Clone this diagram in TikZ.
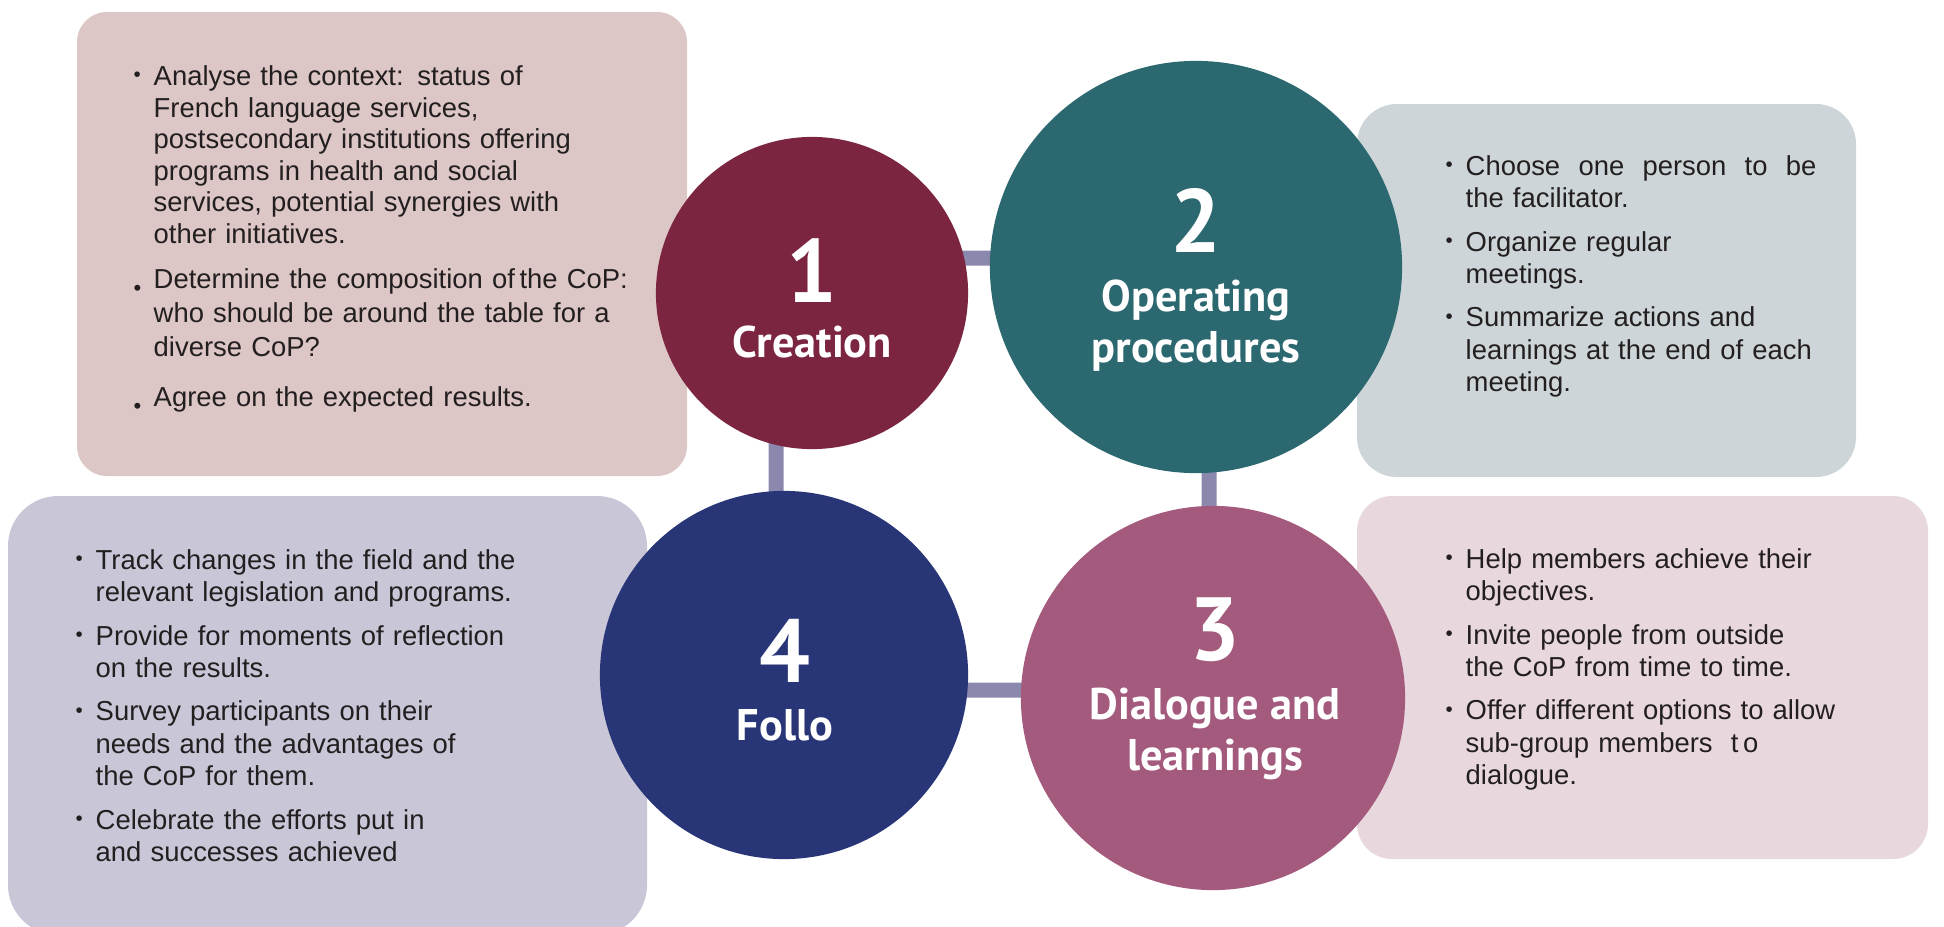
\documentclass[tikz,border=0pt]{standalone}
\usepackage{fontspec}
\usepackage{graphicx}
\usepackage{enumitem}
\setmainfont{Liberation Sans}
\newfontfamily\headfont{PT Sans}

\definecolor{wine}{HTML}{7B2540}
\definecolor{teal}{HTML}{2C6870}
\definecolor{mauve}{HTML}{A35A7C}
\definecolor{navy}{HTML}{283677}
\definecolor{link}{HTML}{8A89AD}
\definecolor{sand}{HTML}{DCC6C6}
\definecolor{mist}{HTML}{CDD5D8}
\definecolor{lilac}{HTML}{C9C6D8}
\definecolor{blush}{HTML}{E8D8DD}
\definecolor{ink}{HTML}{231F20}

\newcommand{\smalldot}{\raisebox{0.25ex}{\scalebox{0.75}{\textbullet}}}
\newcommand{\lowdot}{\raisebox{-0.5ex}{\scalebox{0.8}{\textbullet}}}
\setlist[itemize]{label=\smalldot, leftmargin=0.2cm, labelwidth=0.2cm,
  labelsep=0pt, align=left, topsep=0pt, partopsep=0pt, parsep=0pt,
  itemsep=3.2pt}

\begin{document}
\begin{tikzpicture}[x=0.01cm, y=-0.01cm,
  stage/.style={circle, inner sep=0pt, minimum size=#1},
  num/.style={anchor=base, text=white, font=\headfont\bfseries\fontsize{25.5}{25.5}\selectfont},
  title/.style={anchor=base, text=white, align=center, font=\headfont\bfseries\fontsize{12.6}{14.5}\selectfont},
  notes/.style={anchor=north west, inner sep=0pt, text width=5.4cm, text=ink, font=\fontsize{7.8}{9.2}\selectfont},
  ring/.style={draw=link, line width=0.15cm, rounded corners=0.8cm}]
  \useasboundingbox (0,0) rectangle (1944,927);

  % panels
  \fill[sand, rounded corners=0.3cm] (77,12) rectangle (687,476);
  \fill[mist, rounded corners=0.4cm] (1357,104) rectangle (1856,477);
  \fill[lilac, rounded corners=0.5cm] (8,496) rectangle (647,935);
  \fill[blush, rounded corners=0.35cm] (1357,496) rectangle (1928,859);

  \node[notes, font=\fontsize{7.8}{9.0}\selectfont] (n1) at (133,53) {\begin{itemize}[itemsep=3.8pt]
    \item Analyse the context: status of\\ French language services,\\ postsecondary institutions offering\\ programs in health and social\\ services, potential synergies with\\ other initiatives.
    \item[\lowdot] Determine the composition of\,the CoP:\\[0.6pt] who should be around the table for a\\[0.6pt] diverse CoP?
    \item[\lowdot] \vspace{1.5pt}Agree on the expected results.
  \end{itemize}};
  \node[notes] (n2) at (1445,142) {\begin{itemize}
    \item Choose\ \ one\ \ person\ \ to\ \ be\\ the facilitator.
    \item Organize regular\\ meetings.
    \item Summarize actions and\\ learnings at the end of each\\ meeting.
  \end{itemize}};
  \node[notes] (n4) at (75,536) {\begin{itemize}
    \item Track changes in the field and the\\ relevant legislation and programs.
    \item Provide for moments of reflection\\ on the results.
    \item Survey participants on their\\ needs and the advantages of\\ the CoP for them.
    \item Celebrate the efforts put in\\ and successes achieved
  \end{itemize}};
  \node[notes] (n3) at (1445,535) {\begin{itemize}
    \item Help members achieve their\\ objectives.
    \item Invite people from outside\\ the CoP from time to time.
    \item Offer different options to allow\\ sub-group members\ \ t\,o\\ dialogue.
  \end{itemize}};

  % ring behind the circles
  \coordinate (nw) at (776,258);
  \coordinate (ne) at (1209,258);
  \coordinate (se) at (1209,690);
  \coordinate (sw) at (776,690);
  \draw[ring] (nw) -- (ne) -- (se) -- (sw) -- cycle;

  \node[stage=3.12cm, fill=wine] (1) at (812,293) {};
  \node[stage=4.12cm, fill=teal] (2) at (1196,267) {};
  \node[stage=3.84cm, fill=mauve] (3) at (1213,698) {};
  \node[stage=3.68cm, fill=navy] (4) at (784,675) {};

  \node[num] (1n) at (812,302) {1};
  \node[title] (1t) at (812,357) {Creation};
  \node[num] (2n) at (1196,252) {2};
  \node[title] (2t) at (1196,362) {Operating\\procedures};
  \node[num] (3n) at (1215,660) {3};
  \node[title] (3t) at (1215,770) {Dialogue and\\learnings};
  \node[num] (4n) at (785,682) {4};
  \node[title] (4t) at (785,740) {Follo};
\end{tikzpicture}
\end{document}
